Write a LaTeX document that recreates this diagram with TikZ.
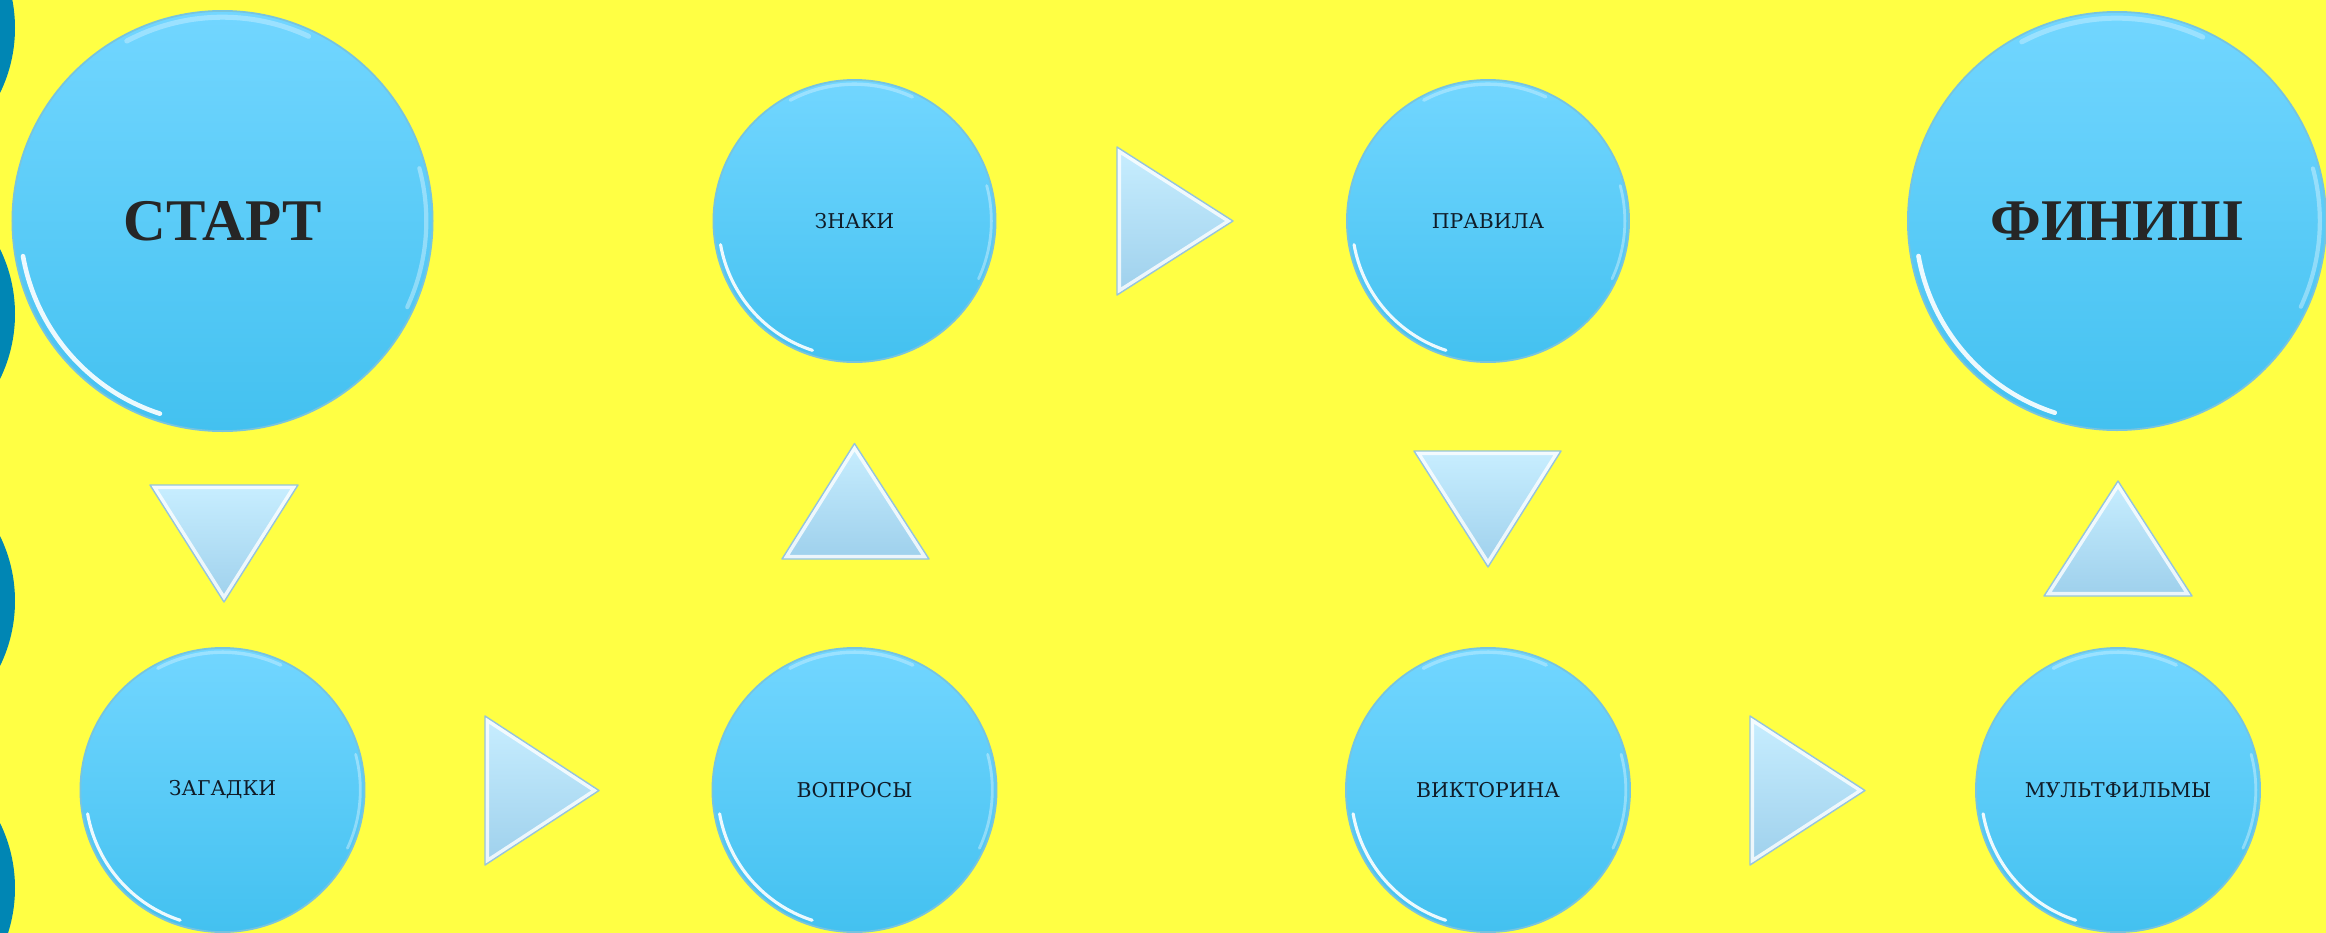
\documentclass[tikz,border=0pt]{standalone}
\usepackage{fontspec}
\setmainfont{Liberation Serif}
\newfontfamily\labelfont{DejaVu Serif}
\usepackage{tikz}
\usetikzlibrary{positioning,calc}
\definecolor{pageyellow}{RGB}{255,255,68}
\definecolor{scallopblue}{RGB}{0,134,180}
\definecolor{bubbletop}{RGB}{114,214,255}
\definecolor{bubblebot}{RGB}{67,193,240}
\definecolor{bubbleedge}{RGB}{120,196,222}
\definecolor{labeldark}{RGB}{16,28,40}
\definecolor{tritop}{RGB}{200,238,255}
\definecolor{tribot}{RGB}{158,208,236}
\definecolor{triedge}{RGB}{150,196,220}
\tikzset{
    bubble/.style={circle, draw=bubbleedge, line width=0.5pt, inner sep=0pt,
                   minimum size=#1, top color=bubbletop, bottom color=bubblebot,
                   text=labeldark, font=\labelfont\fontsize{5.8}{7}\selectfont,
                   path picture={
                     \draw[white, opacity=.9, line width=0.011*#1, line cap=round]
                       (path picture bounding box.center) ++(190:0.482*#1)
                       arc[start angle=190, end angle=252, radius=0.482*#1];
                     \draw[white, opacity=.3, line width=0.012*#1, line cap=round]
                       (path picture bounding box.center) ++(65:0.485*#1)
                       arc[start angle=65, end angle=118, radius=0.485*#1];
                     \draw[white, opacity=.35, line width=0.01*#1, line cap=round]
                       (path picture bounding box.center) ++(-25:0.485*#1)
                       arc[start angle=-25, end angle=15, radius=0.485*#1];
                   }},
    headline/.style={font=\fontsize{16.8}{18}\selectfont\bfseries, text=black!85},
}
\newcommand\pointer[1]{%
    \begin{scope}
        \clip #1;
        \shade[top color=tritop, bottom color=tribot] #1;
        \draw[white, line width=2.4pt, opacity=.8, line join=round] #1;
    \end{scope}
    \draw[triedge, line width=.4pt, line join=round] #1;}

\begin{document}
\begin{tikzpicture}[x=0.01cm, y=-0.01cm]
    \fill[pageyellow] (0,0) rectangle (2326,933);
    \useasboundingbox (0,0) rectangle (2326,933);

    % wavy border on the left
    \begin{scope}
        \clip (0,0) rectangle (2326,933);
        \foreach \yy in {28,314,601,888}
            \fill[scallopblue] (-133,\yy) circle[radius=148];
    \end{scope}

    % stations
    \node[bubble=4.2cm, headline] (start) at (222.5,221) {СТАРТ};
    \node[bubble=2.82cm] (znaki) at (854.5,221) {ЗНАКИ};
    \node[bubble=2.82cm] (pravila) at (1488,221) {ПРАВИЛА};
    \node[bubble=4.18cm, headline] (finish) at (2117,221) {ФИНИШ};

    \node[bubble=2.84cm] (zagadki) at (222.5,790) {ЗАГАДКИ};
    \node[bubble=2.84cm] (voprosy) at (854.5,790) {ВОПРОСЫ};
    \node[bubble=2.84cm] (viktorina) at (1488,790) {ВИКТОРИНА};
    \node[bubble=2.84cm] (multy) at (2118,790) {МУЛЬТФИЛЬМЫ};

    % pointers
    \pointer{(150,485) -- (298,485) -- (224,602) -- cycle}
    \pointer{(485,716) -- (599,790.5) -- (485,865) -- cycle}
    \pointer{(782,559) -- (854.5,443.5) -- (929,559) -- cycle}
    \pointer{(1117,147) -- (1233,221) -- (1117,295) -- cycle}
    \pointer{(1414,451) -- (1561,451) -- (1488,567) -- cycle}
    \pointer{(1750,716) -- (1865,790.5) -- (1750,865) -- cycle}
    \pointer{(2044,596) -- (2118,481) -- (2192,596) -- cycle}
\end{tikzpicture}
\end{document}
